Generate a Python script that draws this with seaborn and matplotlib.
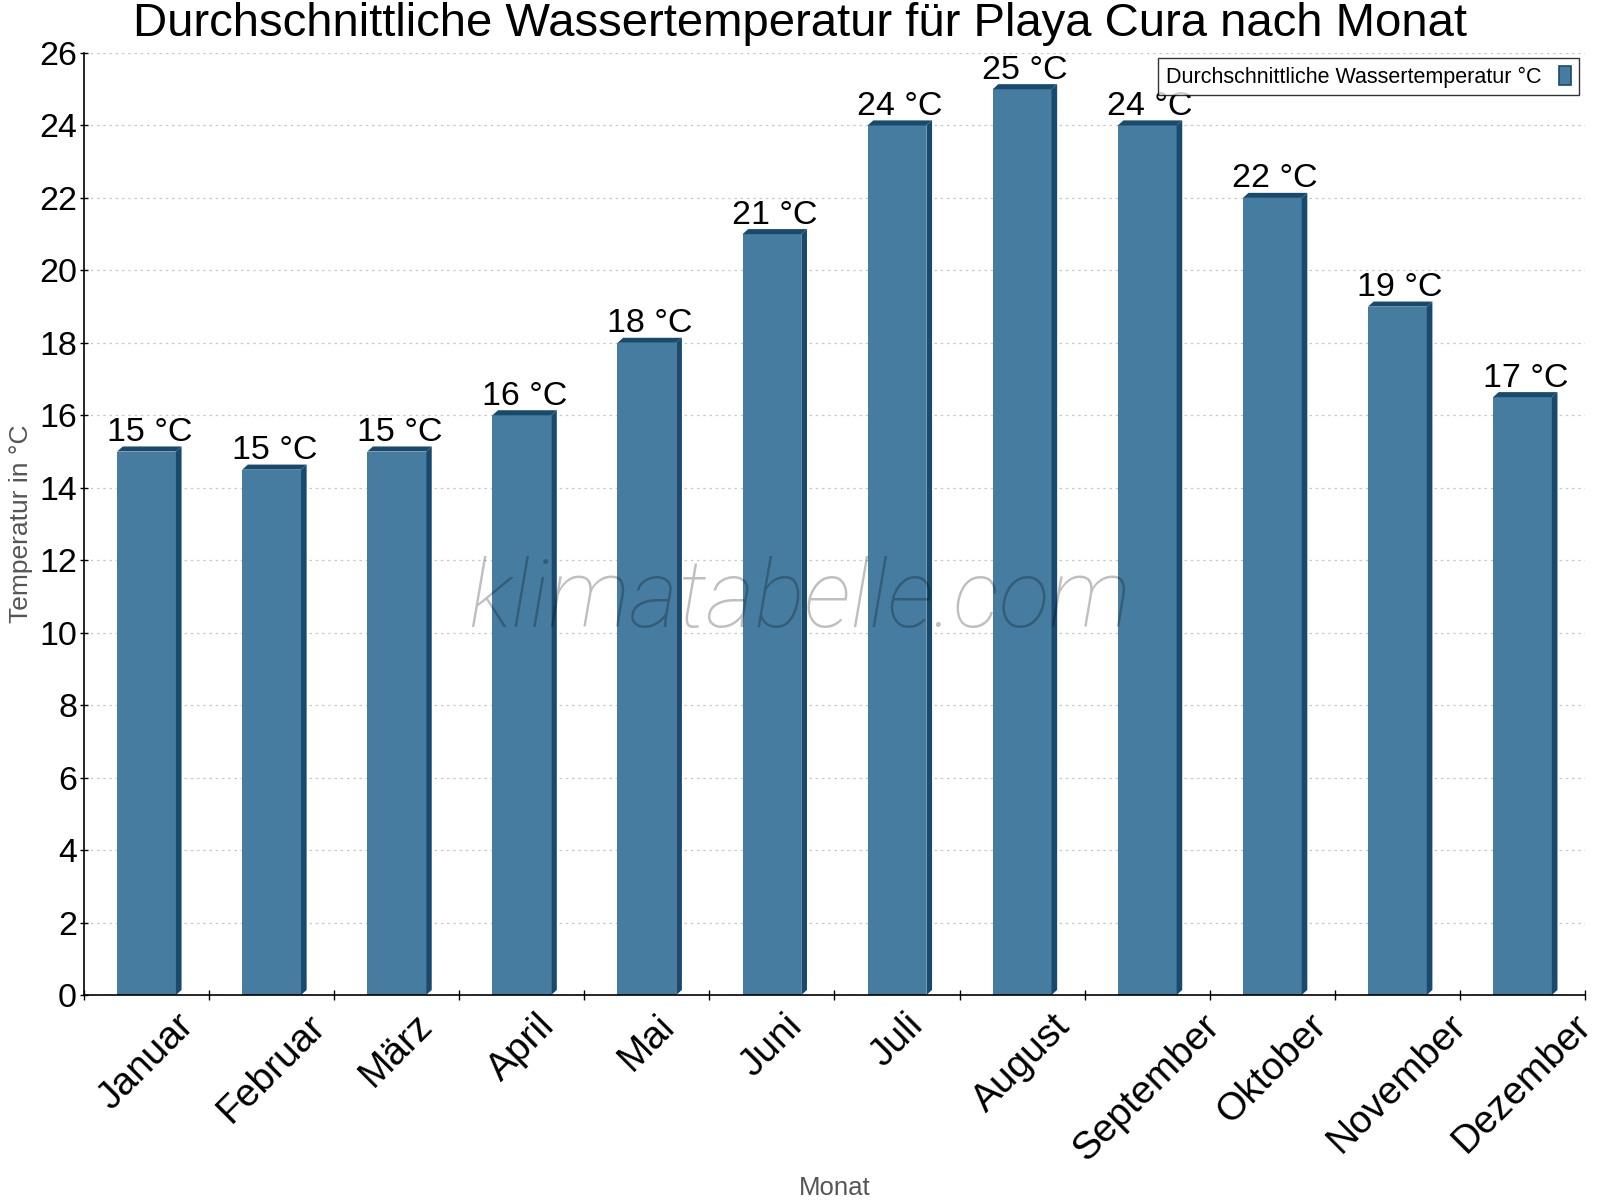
import matplotlib
matplotlib.use("Agg")
import matplotlib.pyplot as plt
from matplotlib.patches import Polygon, Patch
import seaborn as sns

months = ['Januar', 'Februar', 'März', 'April', 'Mai', 'Juni', 'Juli',
          'August', 'September', 'Oktober', 'November', 'Dezember']
water_temp = [15, 14.5, 15, 16, 18, 21, 24, 25, 24, 22, 19, 16.5]

face = '#467ca0'
dark = '#184a6e'

sns.set_style('ticks')
plt.rcParams['font.family'] = ['Liberation Sans', 'DejaVu Sans']
plt.rcParams['text.color'] = 'black'
plt.rcParams['xtick.color'] = 'black'
plt.rcParams['ytick.color'] = 'black'
plt.rcParams['axes.labelcolor'] = '#555555'

fig, ax = plt.subplots(figsize=(16, 12), dpi=100)
fig.subplots_adjust(left=84 / 1600, right=1585 / 1600, top=1 - 53 / 1200, bottom=1 - 995 / 1200)

sns.barplot(x=months, y=water_temp, color=face, width=0.47, linewidth=0,
            saturation=1, ax=ax, zorder=2)

ax.set_xlim(-0.5, 11.5)
ax.set_ylim(0, 26)
ax.set_yticks(range(0, 27, 2))

# fake 3d depth: side and top faces
dx, dy = 0.045, 0.14
for bar, v in zip(ax.patches, water_temp):
    x0 = bar.get_x()
    x1 = x0 + bar.get_width()
    h = bar.get_height()
    ax.add_patch(Polygon([(x1, 0), (x1 + dx, dy), (x1 + dx, h + dy), (x1, h)],
                         closed=True, facecolor=dark, edgecolor='none', zorder=2))
    ax.add_patch(Polygon([(x0, h), (x0 + dx, h + dy), (x1 + dx, h + dy), (x1, h)],
                         closed=True, facecolor=dark, edgecolor='none', zorder=2))
    ax.annotate(f"{int(v + 0.5)} °C", (x0 + (x1 - x0 + dx) / 2, h + dy),
                xytext=(0, 4), textcoords='offset points',
                ha='center', va='baseline', fontsize=24.5, color='black', zorder=4)

ax.set_axisbelow(True)
ax.yaxis.grid(True, linestyle=(0, (2, 3)), color='#c8c8c8', linewidth=0.9)
ax.xaxis.grid(False)
sns.despine(ax=ax)
for s in ['left', 'bottom']:
    ax.spines[s].set_color('black')
    ax.spines[s].set_linewidth(1.2)

# category boundary ticks, labels centered on bars
ax.set_xticks([i - 0.5 for i in range(len(months) + 1)], minor=True)
ax.tick_params(axis='x', which='major', length=0, pad=9, labelsize=28)
ax.tick_params(axis='x', which='minor', direction='inout', length=7, width=1, color='black')
ax.tick_params(axis='y', direction='inout', length=6, width=1, color='black', labelsize=24.5, pad=2)
plt.setp(ax.get_xticklabels(), rotation=45, ha='center')

ax.set_xlabel('Monat', fontsize=18.5, color='#555555', labelpad=6)
ax.set_ylabel('Temperatur in °C', fontsize=19, color='#555555', labelpad=4)

fig.text(0.5, 1 - 36 / 1200, 'Durchschnittliche Wassertemperatur für Playa Cura nach Monat',
         ha='center', va='baseline', fontsize=34, color='black')

fig.text(0.5, 1 - 627 / 1200, 'klimatabelle.com', ha='center', va='baseline',
         fontsize=67.5, family='Roboto', fontweight='light', style='italic',
         color='black', alpha=0.25, zorder=5)

handle = Patch(facecolor=face, edgecolor=dark, linewidth=1.2)
leg = ax.legend([handle], ['Durchschnittliche Wassertemperatur °C'],
                loc='upper right', bbox_to_anchor=(1579 / 1600, 1 - 58 / 1200),
                bbox_transform=fig.transFigure, borderaxespad=0, markerfirst=False,
                fontsize=15.5, frameon=True, fancybox=False, handlelength=0.6,
                handleheight=1.0, handletextpad=0.8, borderpad=0.35)
leg.get_frame().set_edgecolor('black')
leg.get_frame().set_linewidth(1)

fig.savefig('out.png', dpi=100)
